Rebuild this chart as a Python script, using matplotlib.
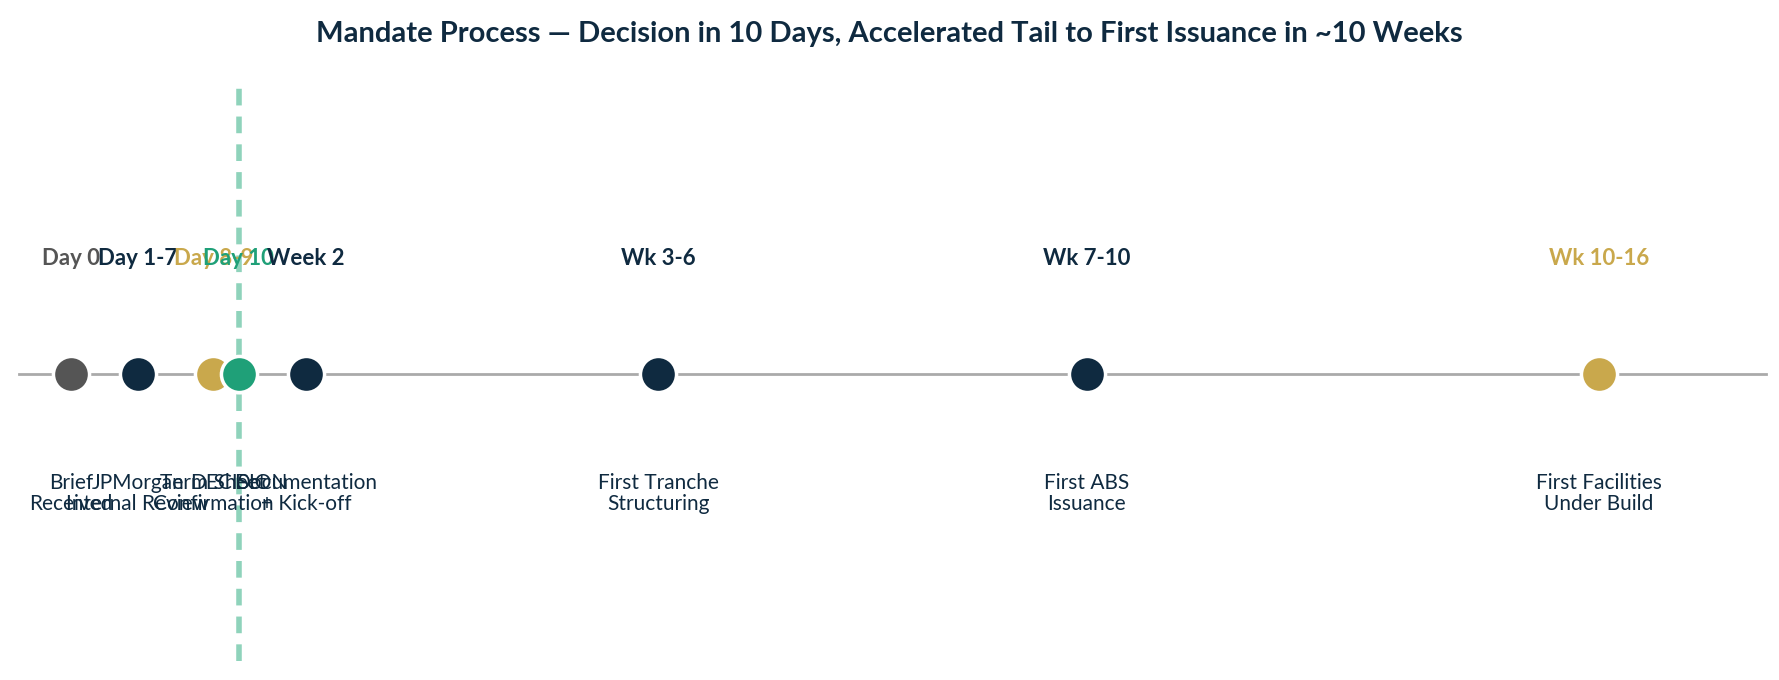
import matplotlib
matplotlib.use("Agg")
import matplotlib.pyplot as plt

phases = ["Day 0", "Day 1-7", "Day 8-9", "Day 10", "Week 2", "Wk 3-6", "Wk 7-10", "Wk 10-16"]
days = [0, 4, 8.5, 10, 14, 35, 60.5, 91]
descs = ["Brief\nReceived", "JPMorgan\nInternal Review", "Term Sheet\nConfirmation", "DECISION",
         "Documentation\n+ Kick-off", "First Tranche\nStructuring", "First ABS\nIssuance",
         "First Facilities\nUnder Build"]
colors = ["#555555", "#0f2a40", "#c9a84c", "#1fa078", "#0f2a40", "#0f2a40", "#0f2a40", "#c9a84c"]
decision_day = 10

plt.rcParams['font.family'] = ['Lato', 'DejaVu Sans']
fig = plt.figure(figsize=(17.79, 6.80), dpi=100)
ax = fig.add_axes([0, 0, 1, 1])
ax.set_xlim(-4.21, 101.73)
ax.set_ylim(0, 1)
ax.axis('off')

ly = 0.45
ax.plot([-3.05, 100.95], [ly, ly], color="#aaaaaa", lw=2, zorder=1)
ax.plot([decision_day, decision_day], [0.028, 0.878], color="#8fd3bb", lw=4,
        ls=(0, (3, 2)), zorder=2)
for x, p, d, c in zip(days, phases, descs, colors):
    ax.plot(x, ly, 'o', ms=26, mfc=c, mec="white", mew=2.5, zorder=3)
    ax.text(x, 0.62, p, ha='center', va='center', fontsize=16, fontweight='bold', color=c)
    ax.text(x, 0.305, d, ha='center', va='top', fontsize=15, color="#0f2a40", linespacing=1.1)

fig.text(0.5, 0.95, "Mandate Process \u2014 Decision in 10 Days, Accelerated Tail to First Issuance in ~10 Weeks",
         ha='center', va='center', fontsize=21, fontweight='bold', color="#0f2a40")
fig.savefig("out.png", dpi=100)
